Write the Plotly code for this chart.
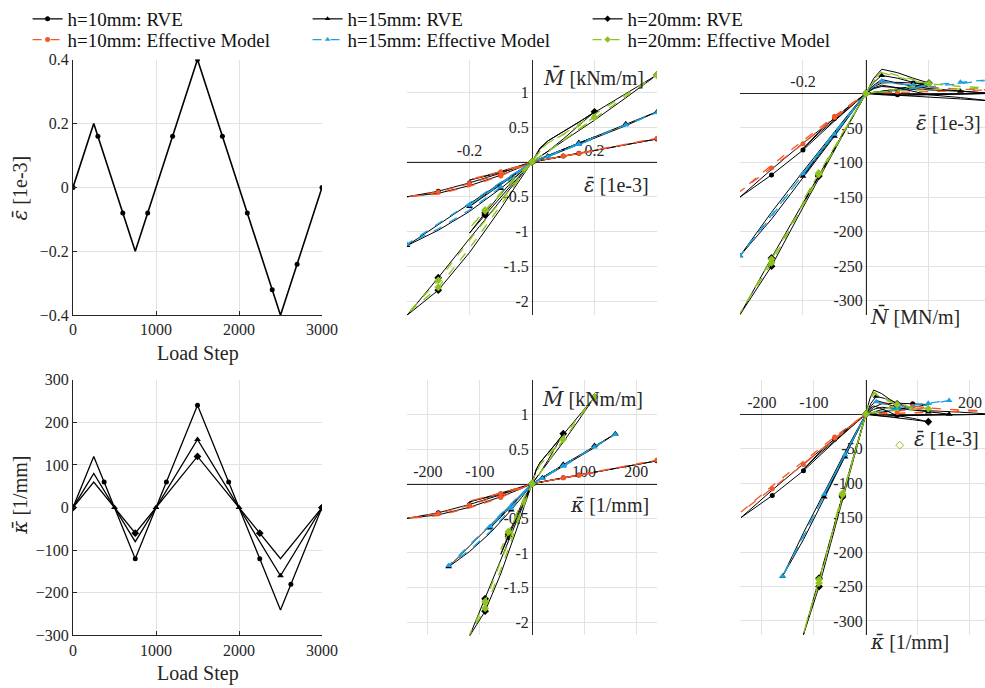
import plotly.graph_objects as go

W, H = 985, 688
FONT = "Liberation Serif"
SYMFONT = "DejaVu Serif"

# ---------------- data: load history (left panels) ----------------
LOAD_TURN = [0, 250, 750, 1500, 2500, 3000]
EPS_TURN = [0, 0.2, -0.2, 0.4, -0.4, 0]
KAPPA_TURN_10 = [0, 120, -120, 240, -240, 0]
KAPPA_TURN_15 = [0, 80, -80, 160, -160, 0]
KAPPA_TURN_20 = [0, 60, -60, 120, -120, 0]

EPS_MARK_STEPS = [0, 300, 600, 900, 1200, 1500, 1800, 2100, 2400, 2700, 3000]
EPS_MARK_VALS = [0, 0.16, -0.08, -0.08, 0.16, 0.4, 0.16, -0.08, -0.32, -0.24, 0]
K10_MARK_STEPS = [0, 375, 750, 1125, 1500, 1875, 2250, 2625, 3000]
K10_MARK_VALS = [0, 60, -120, 60, 240, 60, -120, -180, 0]
K15_MARK_STEPS = [0, 500, 1000, 1500, 2000, 2500, 3000]
K15_MARK_VALS = [0, 0, 0, 160, 0, -160, 0]
K20_MARK_STEPS = [0, 750, 1500, 2250, 3000]
K20_MARK_VALS = [0, -60, 120, -60, 0]

# ---------------- data: sampled loading path ----------------
EPS_PATH = [0, 0.025, 0.05, 0.1, 0.15, 0.2, 0.15, 0.1, 0.05, 0, -0.05, -0.1, -0.15, -0.2,
            -0.15, -0.1, -0.05, 0, 0.025, 0.05, 0.1, 0.15, 0.2, 0.3, 0.4, 0.3, 0.2, 0.1,
            0.05, 0, -0.05, -0.1, -0.2, -0.3, -0.4, -0.3, -0.2, -0.1, -0.05, 0]
KAPPA_PATH_10 = [0, 15, 30, 60, 90, 120, 90, 60, 30, 0, -30, -60, -90, -120, -90, -60, -30,
                 0, 15, 30, 60, 90, 120, 180, 240, 180, 120, 60, 30, 0, -30, -60, -120, -180,
                 -240, -180, -120, -60, -30, 0]
KAPPA_PATH_15 = [0, 10, 20, 40, 60, 80, 60, 40, 20, 0, -20, -40, -60, -80, -60, -40, -20,
                 0, 10, 20, 40, 60, 80, 120, 160, 120, 80, 40, 20, 0, -20, -40, -80, -120,
                 -160, -120, -80, -40, -20, 0]
KAPPA_PATH_20 = [0, 7.5, 15, 30, 45, 60, 45, 30, 15, 0, -15, -30, -45, -60, -45, -30, -15,
                 0, 7.5, 15, 30, 45, 60, 90, 120, 90, 60, 30, 15, 0, -15, -30, -60, -90,
                 -120, -90, -60, -30, -15, 0]

M_RVE_10 = [0, 0.02, 0.04, 0.085, 0.125, 0.165, 0.13, 0.09, 0.045, 0, -0.07, -0.14, -0.2, -0.26,
            -0.21, -0.15, -0.08, 0, 0.02, 0.04, 0.08, 0.12, 0.16, 0.245, 0.33, 0.25, 0.17, 0.085,
            0.04, 0, -0.08, -0.16, -0.3, -0.42, -0.5, -0.45, -0.34, -0.19, -0.1, 0]
M_EFF_10 = [0, 0.02, 0.04, 0.08, 0.12, 0.16, 0.125, 0.085, 0.04, 0, -0.07, -0.135, -0.2, -0.25,
            -0.2, -0.14, -0.075, 0, 0.02, 0.04, 0.08, 0.12, 0.16, 0.25, 0.34, 0.255, 0.17, 0.085,
            0.04, 0, -0.085, -0.17, -0.31, -0.43, -0.5, -0.46, -0.35, -0.2, -0.1, 0]
M_RVE_15 = [0, 0.04, 0.085, 0.18, 0.27, 0.36, 0.265, 0.17, 0.08, 0, -0.17, -0.33, -0.49, -0.64,
            -0.47, -0.31, -0.15, 0, 0.045, 0.09, 0.19, 0.28, 0.37, 0.55, 0.72, 0.52, 0.34, 0.16,
            0.075, 0, -0.2, -0.38, -0.71, -0.98, -1.2, -0.9, -0.6, -0.3, -0.15, 0]
M_EFF_15 = [0, 0.035, 0.075, 0.165, 0.25, 0.335, 0.25, 0.16, 0.075, 0, -0.16, -0.32, -0.47, -0.62,
            -0.46, -0.3, -0.15, 0, 0.04, 0.08, 0.17, 0.26, 0.35, 0.53, 0.71, 0.53, 0.35, 0.17,
            0.08, 0, -0.18, -0.36, -0.69, -0.96, -1.18, -0.89, -0.59, -0.29, -0.14, 0]
M_RVE_20 = [0, 0.2, 0.3, 0.43, 0.57, 0.72, 0.52, 0.33, 0.15, 0, -0.25, -0.5, -0.76, -1.02,
            -0.73, -0.46, -0.21, 0, 0.18, 0.3, 0.44, 0.57, 0.71, 0.98, 1.25, 0.92, 0.6, 0.3,
            0.15, 0, -0.33, -0.67, -1.3, -1.84, -2.2, -1.66, -1.1, -0.55, -0.27, 0]
M_EFF_20 = [0, 0.17, 0.27, 0.39, 0.52, 0.64, 0.47, 0.3, 0.14, 0, -0.23, -0.46, -0.7, -0.95,
            -0.69, -0.44, -0.2, 0, 0.15, 0.27, 0.4, 0.54, 0.68, 0.96, 1.25, 0.94, 0.62, 0.31,
            0.15, 0, -0.3, -0.62, -1.24, -1.8, -2.18, -1.7, -1.12, -0.56, -0.28, 0]

N_RVE_10 = [0, 10, 15, 16, 15, 14, 10, 6, 3, 0, -19, -38, -58, -80, -56, -36, -17, 0, 7, 10, 8,
            6, 5, 3, 0, -1, -2, -2, -1, 0, -20, -40, -82, -118, -150, -110, -72, -36, -18, 0]
N_EFF_10 = [0, 12, 17, 14, 11, 9, 7, 4, 2, 0, -18, -36, -54, -72, -53, -35, -17, 0, 12, 17, 14,
            11, 9, 6, 5, 4, 3, 2, 1, 0, -18, -35, -73, -108, -142, -104, -68, -33, -16, 0]
N_RVE_15 = [0, 16, 26, 22, 16, 10, 7, 4, 2, 0, -30, -60, -90, -120, -88, -57, -28, 0, 12, 20, 15,
            10, 7, 3, 0, -1, -2, -3, -2, 0, -31, -62, -122, -182, -235, -172, -113, -55, -27, 0]
N_EFF_15 = [0, 10, 18, 14, 12, 11, 8, 5, 2, 0, -29, -58, -87, -116, -86, -56, -28, 0, 10, 18, 14,
            12, 12, 16, 20, 14, 9, 5, 3, 0, -30, -59, -117, -178, -235, -176, -117, -58, -29, 0]
N_RVE_20 = [0, 22, 35, 30, 22, 15, 10, 6, 3, 0, -40, -80, -120, -160, -118, -78, -38, 0, 8, 12, 8,
            3, -2, -6, -11, -8, -5, -3, -1, 0, -41, -82, -165, -250, -320, -238, -158, -78, -38, 0]
N_EFF_20 = [0, 20, 32, 26, 19, 14, 10, 6, 3, 0, -39, -78, -117, -155, -115, -77, -38, 0, 18, 30,
            24, 18, 14, 10, 8, 7, 5, 4, 2, 0, -40, -80, -162, -245, -318, -240, -160, -80, -40, 0]

STRAY_KAPPA = [65]
STRAY_N = [-45]

LEGEND_NAMES = ["h=10mm: RVE", "h=15mm: RVE", "h=20mm: RVE",
                "h=10mm: Effective Model", "h=15mm: Effective Model", "h=20mm: Effective Model"]

# ---------------- styling ----------------
BLACK = "#000000"
ORANGE = "#F4562A"
BLUE = "#1BA1E2"
GREEN = "#8DC21F"
AXC = "#262626"
GRID = "#e2e2e2"
TICKFONT = dict(family=FONT, size=16, color=AXC)
LABFONT = dict(family=FONT, size=20, color=AXC)

SYM = {10: "circle", 15: "triangle-up", 20: "diamond"}
MSZ = {10: 5, 15: 6, 20: 6}
MARK_IDX = {10: [0, 4, 15, 24, 27, 32, 33, 37, 39],
            15: [0, 2, 6, 13, 21, 23, 24, 31, 34, 39],
            20: [0, 5, 12, 14, 24, 33, 35, 39]}
EFF_COL = {10: ORANGE, 15: BLUE, 20: GREEN}


def px(p):
    return p / W


def py(p):
    return 1 - p / H


def zero_pos(dom, rng):
    return dom[0] + (0 - rng[0]) / (rng[1] - rng[0]) * (dom[1] - dom[0])


DX_L = [px(73), px(322)]
DX_M = [px(407), px(657)]
DX_R = [px(740), 1.0]
DY_T = [py(312), py(54)]
DY_B = [py(635), py(377)]

fig = go.Figure()


def axn(i):
    return "" if i == 1 else str(i)


def line(xs, ys, ax, color, width, dash="solid"):
    fig.add_trace(go.Scatter(x=xs, y=ys, xaxis="x" + axn(ax), yaxis="y" + axn(ax), mode="lines",
                             line=dict(color=color, width=width, dash=dash),
                             showlegend=False, hoverinfo="skip"))


def marks(xs, ys, ax, color, symbol, size, open_=False):
    fig.add_trace(go.Scatter(x=xs, y=ys, xaxis="x" + axn(ax), yaxis="y" + axn(ax), mode="markers",
                             marker=dict(color=color, symbol=symbol + ("-open" if open_ else ""),
                                         size=size, line=dict(width=1 if open_ else 0, color=color)),
                             showlegend=False, hoverinfo="skip"))


# ---- panel 1: eps vs load step
line(LOAD_TURN, EPS_TURN, 1, BLACK, 1.6)
marks(EPS_MARK_STEPS, EPS_MARK_VALS, 1, BLACK, "circle", 5)

# ---- panel 4: kappa vs load step
for kt in (KAPPA_TURN_10, KAPPA_TURN_15, KAPPA_TURN_20):
    line(LOAD_TURN, kt, 4, BLACK, 1.3)
marks(K10_MARK_STEPS, K10_MARK_VALS, 4, BLACK, "circle", 5)
marks(K15_MARK_STEPS, K15_MARK_VALS, 4, BLACK, "triangle-up", 6)
marks(K20_MARK_STEPS, K20_MARK_VALS, 4, BLACK, "diamond", 6)

# ---- hysteresis panels
SERIES = {
    10: (KAPPA_PATH_10, M_RVE_10, M_EFF_10, N_RVE_10, N_EFF_10),
    15: (KAPPA_PATH_15, M_RVE_15, M_EFF_15, N_RVE_15, N_EFF_15),
    20: (KAPPA_PATH_20, M_RVE_20, M_EFF_20, N_RVE_20, N_EFF_20),
}


def pick(arr, idx):
    return [arr[i] for i in idx]


for ax, xkey, ykey in ((2, "eps", "M"), (3, "eps", "N"), (5, "kap", "M"), (6, "kap", "N")):
    for h, (kap, mr, me, nr, ne) in SERIES.items():
        xs = EPS_PATH if xkey == "eps" else kap
        yr, ye = (mr, me) if ykey == "M" else (nr, ne)
        idx = MARK_IDX[h]
        line(xs, yr, ax, BLACK, 1.0)
        marks(pick(xs, idx), pick(yr, idx), ax, BLACK, SYM[h], MSZ[h])
        line(xs, ye, ax, EFF_COL[h], 1.3, "dash")
        marks(pick(xs, idx), pick(ye, idx), ax, EFF_COL[h], SYM[h], MSZ[h])

marks(STRAY_KAPPA, STRAY_N, 6, GREEN, "diamond", 6, open_=True)

# ---- legend entries (two single-row legends)
LEG_STYLE = [(BLACK, "solid", "circle"), (BLACK, "solid", "triangle-up"), (BLACK, "solid", "diamond"),
             (ORANGE, "dash", "circle"), (BLUE, "dash", "triangle-up"), (GREEN, "dash", "diamond")]
for k, (name, (c, d, s)) in enumerate(zip(LEGEND_NAMES, LEG_STYLE)):
    fig.add_trace(go.Scatter(x=[None], y=[None], mode="lines+markers", name=name,
                             legend="legend" if k < 3 else "legend2",
                             line=dict(color=c, width=1.2, dash=d),
                             marker=dict(color=c, symbol=s, size=5)))


# ---------------- axes ----------------
def box_axes(xdom, ydom, xr, yr, xt, yt, ax):
    xa = dict(domain=xdom, range=xr, tickvals=xt, anchor="y" + axn(ax), showgrid=True,
              gridcolor=GRID, showline=True, linecolor=AXC, linewidth=1, ticks="inside",
              ticklen=4, tickcolor=AXC, zeroline=False, tickfont=TICKFONT, automargin=False)
    ya = dict(domain=ydom, range=yr, tickvals=yt, anchor="x" + axn(ax), showgrid=True,
              gridcolor=GRID, showline=True, linecolor=AXC, linewidth=1, ticks="inside",
              ticklen=4, tickcolor=AXC, zeroline=False, tickfont=TICKFONT, automargin=False)
    return xa, ya


def origin_axes(xdom, ydom, xr, yr, xt, xtt, yt, ytt):
    xa = dict(domain=xdom, range=xr, anchor="free", position=zero_pos(ydom, yr), side="top",
              tickvals=xt, ticktext=xtt, showgrid=True, gridcolor=GRID, showline=True,
              linecolor=AXC, linewidth=1, ticks="", zeroline=False, tickfont=TICKFONT,
              layer="below traces", automargin=False)
    ya = dict(domain=ydom, range=yr, anchor="free", position=zero_pos(xdom, xr), side="left",
              tickvals=yt, ticktext=ytt, showgrid=True, gridcolor=GRID, showline=True,
              linecolor=AXC, linewidth=1, ticks="", zeroline=False, tickfont=TICKFONT,
              layer="below traces", automargin=False)
    return xa, ya


layout = {}
layout["xaxis"], layout["yaxis"] = box_axes(DX_L, DY_T, [0, 3000], [-0.4, 0.4],
                                            [0, 1000, 2000, 3000], [-0.4, -0.2, 0, 0.2, 0.4], 1)
layout["xaxis4"], layout["yaxis4"] = box_axes(DX_L, DY_B, [0, 3000], [-300, 300],
                                              [0, 1000, 2000, 3000],
                                              [-300, -200, -100, 0, 100, 200, 300], 4)
M_T = [-2, -1.5, -1, -0.5, 0, 0.5, 1]
M_TT = ["-2", "-1.5", "-1", "-0.5", "", "0.5", "1"]
N_T = [-300, -250, -200, -150, -100, -50, 0]
N_TT = ["-300", "-250", "-200", "-150", "-100", "-50", ""]
layout["xaxis2"], layout["yaxis2"] = origin_axes(DX_M, DY_T, [-0.4, 0.4], [-2.2, 1.47],
                                                 [-0.4, -0.2, 0, 0.2, 0.4], ["", "-0.2", "", "0.2", ""],
                                                 M_T, M_TT)
layout["xaxis3"], layout["yaxis3"] = origin_axes(DX_R, DY_T, [-0.4, 0.378], [-321, 49],
                                                 [-0.4, -0.2, 0, 0.2], ["", "-0.2", "", ""],
                                                 N_T, N_TT)
layout["xaxis5"], layout["yaxis5"] = origin_axes(DX_M, DY_B, [-240, 240], [-2.19, 1.5],
                                                 [-200, -100, 0, 100, 200],
                                                 ["-200", "-100", "", "100", "200"], M_T, M_TT)
layout["xaxis6"], layout["yaxis6"] = origin_axes(DX_R, DY_B, [-242, 229], [-321, 50],
                                                 [-200, -100, 0, 100, 200],
                                                 ["-200", "-100", "", "", "200"], N_T, N_TT)


def ann(text, x, y, xanchor="center", angle=0):
    return dict(text=text, x=px(x), y=py(y), xref="paper", yref="paper", xanchor=xanchor,
                yanchor="middle", showarrow=False, textangle=angle, font=LABFONT)


def barred(ch):
    return '<span style="font-family:' + SYMFONT + '"><i>' + ch + "\u0304</i></span>"


EPS_LAB = barred("\u03b5") + " [1e-3]"
KAP_LAB = barred("\u03ba") + " [1/mm]"
M_LAB = barred("M") + " [kNm/m]"
N_LAB = barred("N") + " [MN/m]"

annotations = [
    ann("Load Step", 198, 351), ann(EPS_LAB, 20, 184, angle=-90),
    ann("Load Step", 198, 673), ann(KAP_LAB, 20, 494, angle=-90),
    ann(M_LAB, 541, 72, "left"), ann(EPS_LAB, 651, 181, "right"),
    ann(EPS_LAB, 983, 118, "right"), ann(N_LAB, 868, 313, "left"),
    ann(M_LAB, 540, 396, "left"), ann(KAP_LAB, 651, 503, "right"),
    ann(EPS_LAB, 981, 437, "right"), ann(KAP_LAB, 868, 642, "left"),
]

LEGFONT = dict(family=FONT, size=19, color="#111111")
fig.update_layout(
    width=W, height=H, margin=dict(l=0, r=0, t=0, b=0),
    paper_bgcolor="white", plot_bgcolor="white",
    font=dict(family=FONT, color=AXC),
    annotations=annotations,
    legend=dict(orientation="h", x=0.028, y=py(13), xanchor="left", yanchor="middle",
                font=LEGFONT, entrywidth=235, entrywidthmode="pixels",
                bgcolor="rgba(0,0,0,0)", tracegroupgap=0),
    legend2=dict(orientation="h", x=0.028, y=py(34), xanchor="left", yanchor="middle",
                 font=LEGFONT, entrywidth=235, entrywidthmode="pixels",
                 bgcolor="rgba(0,0,0,0)", tracegroupgap=0),
    **layout,
)

fig.write_html("out.html")
